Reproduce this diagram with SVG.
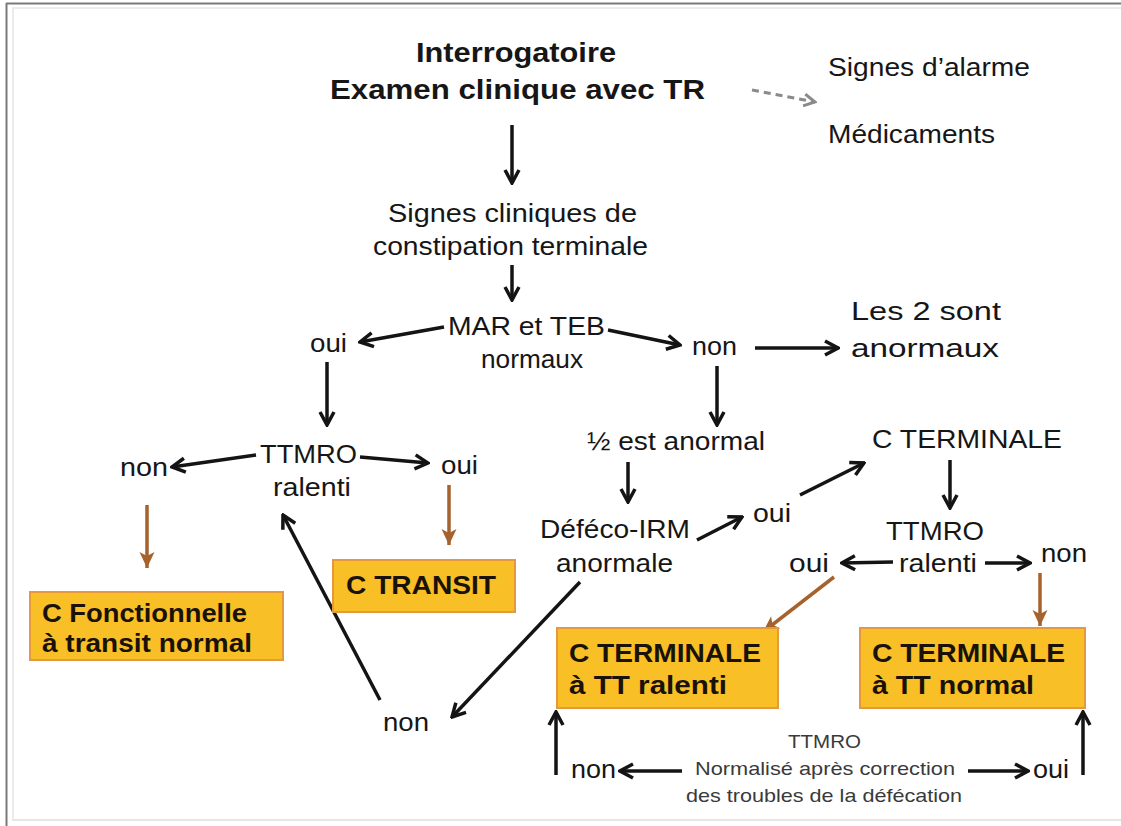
<svg xmlns="http://www.w3.org/2000/svg" width="1121" height="826" viewBox="0 0 1121 826">
<style>
text{font-family:"Liberation Sans",Arial,sans-serif;fill:#161616}
.t{font-size:26px}
.b{font-size:28px;font-weight:bold}
.bx{font-size:25px;font-weight:bold;fill:#1a1208}
.s{font-size:19px;fill:#3a3a3a}
.box{fill:#F8BF26;stroke:#E5993F;stroke-width:2}
.k{stroke:#141414;stroke-width:3.5;fill:none;marker-end:url(#ak)}
.br{stroke:#A5622C;stroke-width:3.5;fill:none;marker-end:url(#ab)}
.g{stroke:#8a8a8a;stroke-width:3;fill:none;stroke-dasharray:7 5;marker-end:url(#ag)}
</style>
<defs>
<marker id="ak" viewBox="0 0 18 18" refX="16" refY="9" markerWidth="18" markerHeight="18" markerUnits="userSpaceOnUse" orient="auto">
<path d="M3,2 L16,9 L3,16" fill="none" stroke="#141414" stroke-width="3.5"/>
</marker>
<marker id="ab" viewBox="0 0 18 18" refX="17" refY="9" markerWidth="18" markerHeight="18" markerUnits="userSpaceOnUse" orient="auto">
<path d="M1,1.5 L17,9 L1,16.5 L5,9 z" fill="#A5622C"/>
</marker>
<marker id="ag" viewBox="0 0 16 16" refX="14" refY="8" markerWidth="16" markerHeight="16" markerUnits="userSpaceOnUse" orient="auto">
<path d="M3,2 L14,8 L3,14" fill="none" stroke="#8a8a8a" stroke-width="3"/>
</marker>
</defs>
<rect x="0" y="0" width="1121" height="826" fill="#ffffff"/>
<g id="frame">
<line x1="6" y1="3.5" x2="1121" y2="3.5" stroke="#7a7a7a" stroke-width="2"/>
<line x1="6.5" y1="3" x2="6.5" y2="826" stroke="#7a7a7a" stroke-width="2"/>
<line x1="12" y1="8" x2="1121" y2="8" stroke="#ececec" stroke-width="2"/>
<line x1="13" y1="8" x2="13" y2="820" stroke="#ececec" stroke-width="2"/>
<line x1="12" y1="820" x2="1121" y2="820" stroke="#e6e6e6" stroke-width="2"/>
</g>
<g id="connectors">
<path class="g" d="M752,90 L815,102"/>
<path class="k" d="M512,125 L512,183"/>
<path class="k" d="M512,265 L512,300"/>
<path class="k" d="M444,327 L360,342"/>
<path class="k" d="M608,330 L680,345"/>
<path class="k" d="M755,348 L838,348"/>
<path class="k" d="M327,362 L327,425"/>
<path class="k" d="M717,366 L717,425"/>
<path class="k" d="M256,455 L172,467"/>
<path class="k" d="M360,457 L428,463"/>
<path class="br" d="M147,505 L147,568"/>
<path class="br" d="M449,485 L449,545"/>
<path class="k" d="M628,462 L628,502"/>
<path class="k" d="M697,540 L742,517"/>
<path class="k" d="M800,495 L864,463"/>
<path class="k" d="M950,460 L950,508"/>
<path class="k" d="M893,562 L842,563"/>
<path class="k" d="M985,563 L1030,563"/>
<path class="br" d="M834,577 L763,632"/>
<path class="br" d="M1040,573 L1040,626"/>
<path class="k" d="M380,700 L283,515"/>
<path class="k" d="M580,582 L452,717"/>
<path class="k" d="M556,775 L556,712"/>
<path class="k" d="M682,771 L620,771"/>
<path class="k" d="M968,771 L1028,771"/>
<path class="k" d="M1083,775 L1083,712"/>
</g>
<g id="n-interrogatoire">
<text class="b" x="416" y="62" textLength="200" lengthAdjust="spacingAndGlyphs">Interrogatoire</text>
<text class="b" x="330" y="99" textLength="375" lengthAdjust="spacingAndGlyphs">Examen clinique avec TR</text>
</g>
<g id="n-alarme"><text class="t" x="828" y="76" textLength="202" lengthAdjust="spacingAndGlyphs">Signes d’alarme</text></g>
<g id="n-medic"><text class="t" x="828" y="143" textLength="167" lengthAdjust="spacingAndGlyphs">Médicaments</text></g>
<g id="n-signes">
<text class="t" x="388" y="222" textLength="249" lengthAdjust="spacingAndGlyphs">Signes cliniques de</text>
<text class="t" x="373" y="255" textLength="275" lengthAdjust="spacingAndGlyphs">constipation terminale</text>
</g>
<g id="n-mar">
<text class="t" x="448" y="335" textLength="157" lengthAdjust="spacingAndGlyphs">MAR et TEB</text>
<text class="t" x="481" y="368" textLength="102" lengthAdjust="spacingAndGlyphs">normaux</text>
</g>
<g id="n-oui1"><text class="t" x="310" y="352" textLength="37" lengthAdjust="spacingAndGlyphs">oui</text></g>
<g id="n-non1"><text class="t" x="692" y="355" textLength="45" lengthAdjust="spacingAndGlyphs">non</text></g>
<g id="n-les2">
<text class="t" x="851" y="320" textLength="150" lengthAdjust="spacingAndGlyphs">Les 2 sont</text>
<text class="t" x="851" y="357" textLength="148" lengthAdjust="spacingAndGlyphs">anormaux</text>
</g>
<g id="n-ttmro1">
<text class="t" x="260" y="463" textLength="97" lengthAdjust="spacingAndGlyphs">TTMRO</text>
<text class="t" x="273" y="496" textLength="78" lengthAdjust="spacingAndGlyphs">ralenti</text>
</g>
<g id="n-non2"><text class="t" x="120" y="476" textLength="48" lengthAdjust="spacingAndGlyphs">non</text></g>
<g id="n-oui2"><text class="t" x="441" y="474" textLength="37" lengthAdjust="spacingAndGlyphs">oui</text></g>
<g id="n-demi"><text class="t" x="587" y="450" textLength="178" lengthAdjust="spacingAndGlyphs">½ est anormal</text></g>
<g id="n-defeco">
<text class="t" x="540" y="538" textLength="150" lengthAdjust="spacingAndGlyphs">Déféco-IRM</text>
<text class="t" x="556" y="572" textLength="117" lengthAdjust="spacingAndGlyphs">anormale</text>
</g>
<g id="n-oui3"><text class="t" x="753" y="522" textLength="38" lengthAdjust="spacingAndGlyphs">oui</text></g>
<g id="n-cterm"><text class="t" x="872" y="448" textLength="190" lengthAdjust="spacingAndGlyphs">C TERMINALE</text></g>
<g id="n-ttmro2">
<text class="t" x="886" y="540" textLength="98" lengthAdjust="spacingAndGlyphs">TTMRO</text>
<text class="t" x="899" y="572" textLength="78" lengthAdjust="spacingAndGlyphs">ralenti</text>
</g>
<g id="n-oui4"><text class="t" x="789" y="572" textLength="40" lengthAdjust="spacingAndGlyphs">oui</text></g>
<g id="n-non3"><text class="t" x="1041" y="562" textLength="46" lengthAdjust="spacingAndGlyphs">non</text></g>
<g id="n-non4"><text class="t" x="383" y="731" textLength="46" lengthAdjust="spacingAndGlyphs">non</text></g>
<g id="n-non5"><text class="t" x="571" y="778" textLength="45" lengthAdjust="spacingAndGlyphs">non</text></g>
<g id="n-oui5"><text class="t" x="1033" y="778" textLength="36" lengthAdjust="spacingAndGlyphs">oui</text></g>
<g id="n-ttmro3">
<text class="s" x="788" y="748" textLength="73" lengthAdjust="spacingAndGlyphs">TTMRO</text>
<text class="s" x="695" y="775" textLength="260" lengthAdjust="spacingAndGlyphs">Normalisé après correction</text>
<text class="s" x="686" y="802" textLength="276" lengthAdjust="spacingAndGlyphs">des troubles de la défécation</text>
</g>
<g id="n-cfonc">
<rect class="box" x="30" y="592" width="253" height="68"/>
<text class="bx" x="42" y="622" textLength="205" lengthAdjust="spacingAndGlyphs">C Fonctionnelle</text>
<text class="bx" x="42" y="652" textLength="210" lengthAdjust="spacingAndGlyphs">à transit normal</text>
</g>
<g id="n-ctransit">
<rect class="box" x="333" y="560" width="182" height="52"/>
<text class="bx" x="346" y="594" textLength="150" lengthAdjust="spacingAndGlyphs">C TRANSIT</text>
</g>
<g id="n-ctermral">
<rect class="box" x="557" y="628" width="221" height="80"/>
<text class="bx" x="569" y="662" textLength="192" lengthAdjust="spacingAndGlyphs">C TERMINALE</text>
<text class="bx" x="569" y="694" textLength="158" lengthAdjust="spacingAndGlyphs">à TT ralenti</text>
</g>
<g id="n-ctermnorm">
<rect class="box" x="860" y="628" width="225" height="80"/>
<text class="bx" x="872" y="662" textLength="193" lengthAdjust="spacingAndGlyphs">C TERMINALE</text>
<text class="bx" x="872" y="694" textLength="162" lengthAdjust="spacingAndGlyphs">à TT normal</text>
</g>
</svg>
